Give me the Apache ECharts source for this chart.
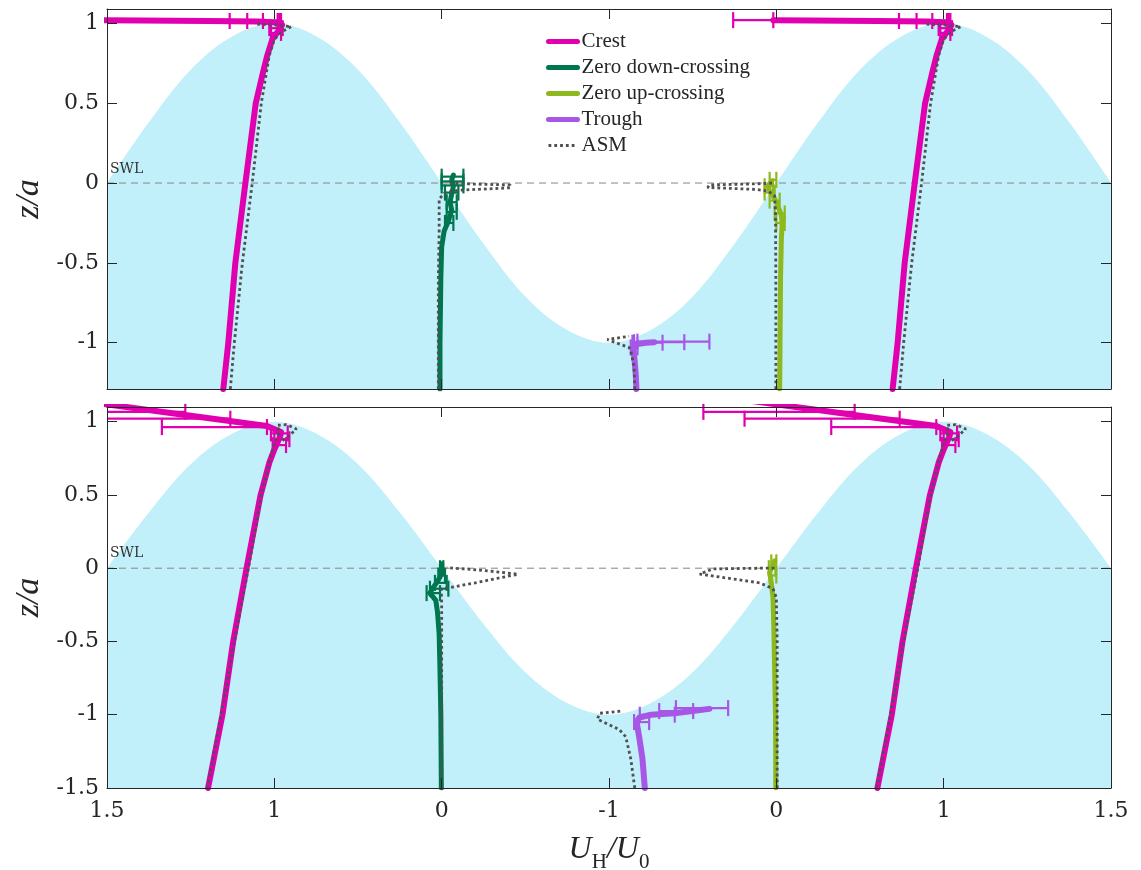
<!DOCTYPE html>
<html>
<head>
<meta charset="utf-8">
<script src="https://cdn.jsdelivr.net/npm/echarts@6/dist/echarts.min.js"></script>
<style>
html, body { margin: 0; padding: 0; background: #fff; }
#chart { width: 1141px; height: 870px; }
</style>
</head>
<body>
<div id="chart"></div>
<script>
// x axis runs 0..6 (one unit per quarter wavelength), labelled like the figure
var xTickLabels = ['1.5', '1', '0', '-1', '0', '1', '1.5'];
var topYTicks = [-1, -0.5, 0, 0.5, 1];
var botYTicks = [-1.5, -1, -0.5, 0, 0.5, 1];

// free surface z/a, sampled every 0.25 along x
var surfaceZ = [0, 0.38, 0.71, 0.92, 1, 0.92, 0.71, 0.38, 0, -0.38, -0.71, -0.92, -1,
                -0.92, -0.71, -0.38, 0, 0.38, 0.71, 0.92, 1, 0.92, 0.71, 0.38, 0];

// crest profiles are drawn at both crests; stored as offset from the crest tick
var crestPos = [1, 5];

// ---- upper panel ----
var topCrest = [[-0.305, -1.29], [-0.275, -1.0], [-0.233, -0.5], [-0.173, 0], [-0.111, 0.5],
  [-0.066, 0.7], [-0.042, 0.8], [-0.012, 0.9], [0.03, 0.96], [0.046, 0.99], [0.018, 1.005],
  [-0.1, 1.012], [-0.4, 1.015], [-0.8, 1.018], [-1.018, 1.02]];
var topCrestAsm = [[-0.263, -1.29], [-0.239, -1.0], [-0.191, -0.5], [-0.132, 0], [-0.078, 0.5],
  [-0.03, 0.8], [0, 0.9], [0.048, 0.95], [0.102, 0.98], [0, 0.99], [-0.102, 0.995]];
var topCrestErr = [[1.015, -0.267, 0.02], [1.015, -0.162, 0.03], [1.015, -0.068, 0.04],
  [1.02, -1.258, -1.018], [0.97, -0.03, 0.05], [0.94, -0.02, 0.04]];

var topDown = [[1.99, -1.29], [1.99, -1.0], [1.995, -0.6], [2.0, -0.4], [2.015, -0.3], [2.04, -0.24],
  [2.06, -0.17], [2.05, -0.12], [2.06, -0.07], [2.07, -0.02], [2.06, 0.02], [2.07, 0.05]];
var topDownAsm = [[1.98, -1.29], [1.98, -0.6], [1.985, -0.3], [1.985, -0.1], [2.02, -0.06],
  [2.1, -0.045], [2.41, -0.03], [2.41, -0.012], [2.14, -0.005], [2.03, 0]];
var topDownErr = [[-0.25, 2.02, 2.07], [-0.18, 2.03, 2.09], [-0.12, 2.03, 2.09], [-0.06, 2.02, 2.1],
  [-0.015, 2.0, 2.13], [0.01, 2.0, 2.13], [0.04, 2.0, 2.13]];

var topUp = [[4.02, -1.29], [4.022, -1.0], [4.025, -0.6], [4.03, -0.35], [4.035, -0.25], [4.03, -0.2],
  [4.0, -0.12], [3.98, -0.08], [3.96, -0.05], [3.95, -0.02], [3.97, 0.01]];
var topUpAsm = [[3.997, -1.29], [3.997, -0.6], [3.995, -0.2], [3.99, -0.08], [3.95, -0.05],
  [3.88, -0.04], [3.59, -0.028], [3.6, -0.012], [3.88, -0.005], [3.98, 0]];
var topUpErr = [[-0.25, 4.0, 4.05], [-0.19, 3.99, 4.05], [-0.11, 3.96, 4.02], [-0.06, 3.93, 3.99],
  [-0.02, 3.93, 3.98], [0.02, 3.96, 4.0]];

var topTrough = [[3.164, -1.29], [3.16, -1.2], [3.152, -1.1], [3.145, -1.04], [3.16, -1.01],
  [3.22, -1.0], [3.27, -0.997]];
var topTroughAsm = [[3.154, -1.29], [3.15, -1.15], [3.13, -1.05], [3.12, -1.03], [2.99, -0.98],
  [3.12, -0.96]];
var topTroughErr = [[-1.03, 3.13, 3.17], [-1.0, 3.14, 3.32], [-0.997, 3.15, 3.45], [-0.993, 3.17, 3.6]];

// ---- lower panel ----
var botCrest = [[-0.396, -1.5], [-0.31, -1.0], [-0.246, -0.5], [-0.166, 0], [-0.082, 0.5],
  [-0.03, 0.72], [0, 0.81], [0.035, 0.9], [0.04, 0.93], [-0.044, 0.97], [-0.5, 1.04], [-1.3, 1.165]];
var botCrestAsm = [[-0.401, -1.5], [-0.317, -1.0], [-0.239, -0.5], [-0.155, 0], [-0.078, 0.5],
  [-0.024, 0.75], [0, 0.85], [0.03, 0.93], [0.018, 0.975], [0.072, 0.98], [0.132, 0.95],
  [0.084, 0.9], [0.048, 0.87]];
var botCrestErr = [[1.067, -1.436, -0.532], [1.02, -1.19, -0.263], [0.963, -0.672, -0.044],
  [0.92, -0.02, 0.08], [0.88, 0.0, 0.09], [0.84, -0.01, 0.07]];

var botDown = [[1.998, -1.5], [1.995, -1.0], [1.99, -0.7], [1.985, -0.45], [1.975, -0.3],
  [1.965, -0.22], [1.93, -0.17], [1.95, -0.13], [1.97, -0.1], [1.99, -0.06], [2.0, -0.02], [2.0, 0.03]];
var botDownAsm = [[2.0, -1.5], [2.0, -0.5], [2.0, -0.25], [1.998, -0.143], [2.2, -0.1],
  [2.456, -0.041], [2.25, -0.015], [2.03, 0.004]];
var botDownErr = [[-0.17, 1.91, 1.99], [-0.14, 1.93, 2.04], [-0.1, 1.96, 2.03], [-0.05, 1.98, 2.02],
  [0.0, 1.99, 2.01]];

var botUp = [[3.997, -1.5], [3.995, -1.0], [3.99, -0.7], [3.985, -0.4], [3.98, -0.2], [3.97, -0.1],
  [3.96, -0.03], [3.975, 0.01], [3.99, 0.05]];
var botUpAsm = [[4.005, -1.5], [4.005, -0.5], [4.0, -0.2], [3.98, -0.14], [3.9, -0.1],
  [3.542, -0.04], [3.62, -0.005], [3.9, 0], [3.99, 0]];
var botUpErr = [[0.04, 3.97, 4.0], [0.0, 3.955, 3.995], [-0.05, 3.96, 4.0]];

var botTrough = [[3.214, -1.5], [3.2, -1.3], [3.18, -1.15], [3.165, -1.05], [3.18, -1.02],
  [3.25, -1.0], [3.39, -0.99], [3.5, -0.975], [3.6, -0.96]];
var botTroughAsm = [[3.154, -1.5], [3.13, -1.3], [3.1, -1.15], [3.06, -1.1], [2.93, -1.03],
  [2.945, -0.99], [3.075, -0.975]];
var botTroughErr = [[-1.05, 3.15, 3.24], [-1.0, 3.184, 3.393], [-0.975, 3.3, 3.503], [-0.955, 3.4, 3.712]];

var colors = {
  crest: '#E000B0', down: '#00764E', up: '#8DB81E', trough: '#A757E5',
  asm: '#505050', water: '#C1F0FA', axis: '#262626', swl: '#858585'
};
var dotDash = [2.8, 3];

var panels = [
  { ymin: -1.29, ymax: 1.09, yTicks: topYTicks, crest: topCrest, crestAsm: topCrestAsm, crestErr: topCrestErr,
    down: topDown, downAsm: topDownAsm, downErr: topDownErr,
    up: topUp, upAsm: topUpAsm, upErr: topUpErr,
    trough: topTrough, troughAsm: topTroughAsm, troughErr: topTroughErr },
  { ymin: -1.5, ymax: 1.1, yTicks: botYTicks, crest: botCrest, crestAsm: botCrestAsm, crestErr: botCrestErr,
    down: botDown, downAsm: botDownAsm, downErr: botDownErr,
    up: botUp, upAsm: botUpAsm, upErr: botUpErr,
    trough: botTrough, troughAsm: botTroughAsm, troughErr: botTroughErr }
];

function shift(pts, base) {
  return pts.map(function (p) { return [base + p[0], p[1]]; });
}
function shiftErr(rows, base) {
  return rows.map(function (r) { return [r[0], base + r[1], base + r[2]]; });
}

function renderErr(params, api) {
  var z = api.value(0);
  var a = api.coord([api.value(1), z]);
  var b = api.coord([api.value(2), z]);
  var cs = params.coordSys;
  var x0 = Math.max(a[0], cs.x), x1 = Math.min(b[0], cs.x + cs.width);
  var y = a[1];
  if (x1 <= x0 || y < cs.y || y > cs.y + cs.height) return;
  var st = { stroke: api.visual('color'), lineWidth: 2.2, fill: null };
  var h = 8;
  var kids = [{ type: 'line', shape: { x1: x0, y1: y, x2: x1, y2: y }, style: st }];
  if (a[0] >= cs.x) kids.push({ type: 'line', shape: { x1: a[0], y1: y - h, x2: a[0], y2: y + h }, style: st });
  if (b[0] <= cs.x + cs.width) kids.push({ type: 'line', shape: { x1: b[0], y1: y - h, x2: b[0], y2: y + h }, style: st });
  return { type: 'group', children: kids };
}

var series = [];
panels.forEach(function (p, gi) {
  var ax = { xAxisIndex: gi * 2, yAxisIndex: gi * 2 };
  function line(name, data, color, width, dotted, z) {
    series.push(Object.assign({
      type: 'line', name: name, data: data, symbol: 'none', z: z, silent: true,
      lineStyle: dotted
        ? { color: color, width: width, type: dotDash, cap: 'butt' }
        : { color: color, width: width, join: 'round', cap: 'round' },
      itemStyle: { color: color }
    }, ax));
  }
  function err(name, data, color) {
    series.push(Object.assign({
      type: 'custom', name: name, data: data, renderItem: renderErr, z: 4, silent: true,
      encode: { x: [1, 2], y: 0 }, itemStyle: { color: color }
    }, ax));
  }
  // water
  series.push(Object.assign({
    type: 'line', name: 'surface', silent: true, symbol: 'none', smooth: 0.35, z: 1,
    data: surfaceZ.map(function (z, i) { return [i * 0.25, z]; }),
    lineStyle: { width: 0 }, areaStyle: { color: colors.water, opacity: 1, origin: 'start' }
  }, ax));
  // still water level
  series.push(Object.assign({
    type: 'line', name: 'SWL', silent: true, symbol: 'none', z: 2,
    data: [[0, 0], [6, 0]],
    lineStyle: { color: colors.swl, width: 1, type: [7, 5] }
  }, ax));

  crestPos.forEach(function (c) {
    line('Crest', shift(p.crest, c), colors.crest, 6, false, 3);
  });
  line('Zero down-crossing', p.down, colors.down, 5, false, 3);
  line('Zero up-crossing', p.up, colors.up, 5, false, 3);
  line('Trough', p.trough, colors.trough, 6, false, 3);

  crestPos.forEach(function (c) {
    err('Crest err', shiftErr(p.crestErr, c), colors.crest);
  });
  err('Down err', p.downErr, colors.down);
  err('Up err', p.upErr, colors.up);
  err('Trough err', p.troughErr, colors.trough);

  crestPos.forEach(function (c) {
    line('ASM', shift(p.crestAsm, c), colors.asm, 2.8, true, 5);
  });
  line('ASM', p.downAsm, colors.asm, 2.8, true, 5);
  line('ASM', p.upAsm, colors.asm, 2.8, true, 5);
  line('ASM', p.troughAsm, colors.asm, 2.8, true, 5);
});

var tickFont = { fontFamily: 'DejaVu Serif', fontSize: 22, color: '#262626' };
var axLine = { show: true, onZero: false, lineStyle: { color: colors.axis, width: 1 } };
var tick = { show: true, inside: true, length: 10, lineStyle: { color: colors.axis, width: 1 } };

var grids = [
  { left: 107, right: 30, top: 9, height: 380, outerBoundsMode: 'none' },
  { left: 107, right: 30, top: 407, height: 381, outerBoundsMode: 'none' }
];

var xAxes = [], yAxes = [];
panels.forEach(function (p, gi) {
  var last = gi === panels.length - 1;
  xAxes.push({
    type: 'value', gridIndex: gi, min: 0, max: 6, interval: 1, position: 'bottom', z: 10,
    axisLine: axLine, axisTick: tick, splitLine: { show: false },
    axisLabel: last ? Object.assign({
      margin: 12, formatter: function (v) { return xTickLabels[Math.round(v)]; }
    }, tickFont) : { show: false },
    name: last ? '{u|U}{s|H}{u|/U}{s|0}' : '',
    nameLocation: 'middle', nameGap: 46,
    nameTextStyle: {
      rich: {
        u: { fontFamily: 'Liberation Serif', fontStyle: 'italic', fontSize: 32, color: '#262626',
             verticalAlign: 'bottom', padding: [0, 0, 7, 0] },
        s: { fontFamily: 'Liberation Serif', fontSize: 21, color: '#262626', verticalAlign: 'bottom' }
      }
    }
  });
  xAxes.push({
    type: 'value', gridIndex: gi, min: 0, max: 6, interval: 1, position: 'top', z: 10,
    axisLine: axLine, axisTick: tick, axisLabel: { show: false }, splitLine: { show: false }
  });
  yAxes.push({
    type: 'value', gridIndex: gi, min: p.ymin, max: p.ymax, position: 'left', z: 10,
    axisLine: axLine, splitLine: { show: false },
    axisTick: Object.assign({ customValues: p.yTicks }, tick),
    axisLabel: Object.assign({ customValues: p.yTicks, margin: 8 }, tickFont),
    name: 'z/a', nameLocation: 'middle', nameGap: 58, nameRotate: 90,
    nameTextStyle: { fontFamily: 'Liberation Serif', fontStyle: 'italic', fontSize: 34, color: '#262626' }
  });
  yAxes.push({
    type: 'value', gridIndex: gi, min: p.ymin, max: p.ymax, position: 'right', z: 10,
    axisLine: axLine, splitLine: { show: false }, axisLabel: { show: false },
    axisTick: Object.assign({ customValues: p.yTicks }, tick)
  });
});

var legendNames = ['Crest', 'Zero down-crossing', 'Zero up-crossing', 'Trough', 'ASM'];

var chart = echarts.init(document.getElementById('chart'), null, { renderer: 'canvas' });
chart.setOption({
  backgroundColor: '#ffffff',
  animation: false,
  grid: grids,
  xAxis: xAxes,
  yAxis: yAxes,
  legend: {
    orient: 'vertical', left: 546, top: 31, padding: 0, itemGap: 5,
    itemWidth: 29, itemHeight: 0.5,
    data: legendNames.map(function (n) {
      return n === 'ASM'
        ? { name: n, lineStyle: { width: 2.8, type: dotDash } }
        : { name: n, lineStyle: { width: 5 } };
    }),
    textStyle: { fontFamily: 'Liberation Serif', fontSize: 21, color: '#262626', lineHeight: 21,
                 padding: [0, 0, 0, -1] },
    selectedMode: false
  },
  graphic: [
    { type: 'text', left: 110, top: 162, silent: true, z: 100,
      style: { text: 'SWL', font: '14px "DejaVu Serif"', fill: '#333' } },
    { type: 'text', left: 110, top: 546, silent: true, z: 100,
      style: { text: 'SWL', font: '14px "DejaVu Serif"', fill: '#333' } }
  ],
  series: series
});
</script>
</body>
</html>
